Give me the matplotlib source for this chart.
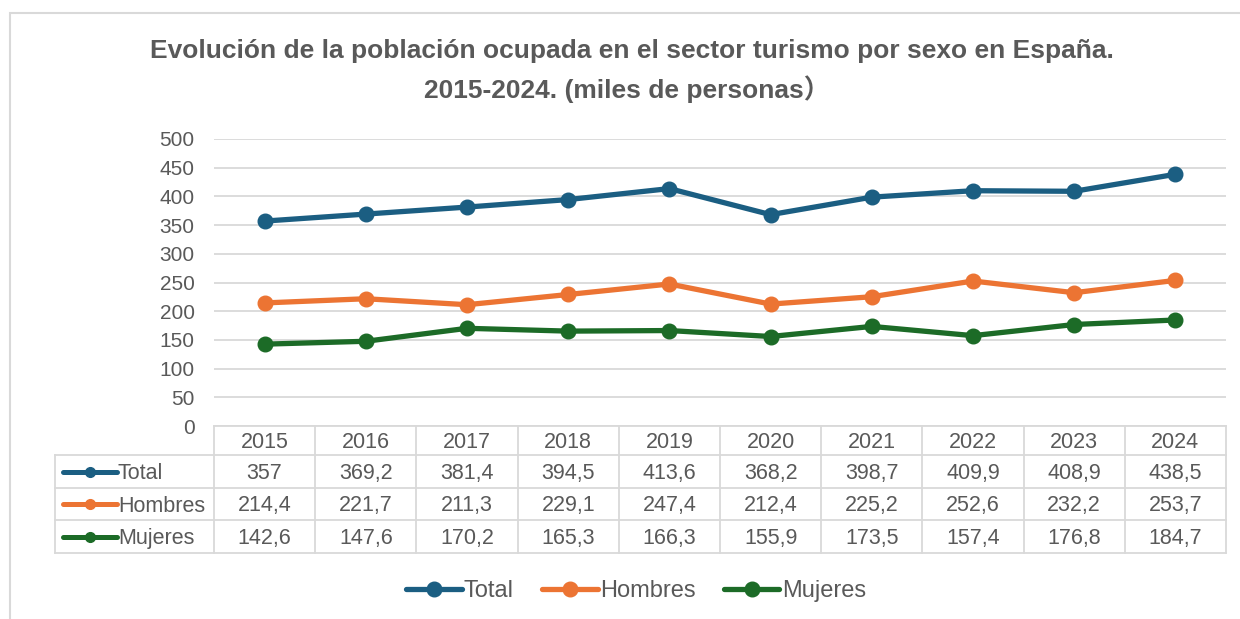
import matplotlib
matplotlib.use("Agg")
import matplotlib.pyplot as plt
from matplotlib.lines import Line2D
from matplotlib.patches import Rectangle

years = ["2015", "2016", "2017", "2018", "2019", "2020", "2021", "2022", "2023", "2024"]
total = [357, 369.2, 381.4, 394.5, 413.6, 368.2, 398.7, 409.9, 408.9, 438.5]
hombres = [214.4, 221.7, 211.3, 229.1, 247.4, 212.4, 225.2, 252.6, 232.2, 253.7]
mujeres = [142.6, 147.6, 170.2, 165.3, 166.3, 155.9, 173.5, 157.4, 176.8, 184.7]
series_names = ["Total", "Hombres", "Mujeres"]
series_colors = ["#1B5E82", "#EC7433", "#1C6B27"]
yticks = [0, 50, 100, 150, 200, 250, 300, 350, 400, 450, 500]

plt.rcParams['font.family'] = ['Liberation Sans', 'Noto Sans CJK SC', 'DejaVu Sans']
TXT = "#595959"
GRID = "#D9D9D9"

W, H = 1240, 619
fig = plt.figure(figsize=(W / 100, H / 100), dpi=100)

def fx(px):
    return px / W

def fy(py):
    return 1 - py / H

# outer frame
fig.patches.append(Rectangle((fx(10), fy(700)), fx(1300), fy(13) - fy(700),
                             transform=fig.transFigure, fill=False,
                             edgecolor="#D9D9D9", lw=1.5))

ax_l, ax_r, ax_t, ax_b = 214, 1226, 139, 426
ax = fig.add_axes([fx(ax_l), fy(ax_b), fx(ax_r - ax_l), fy(ax_t) - fy(ax_b)])
ax.set_xlim(-0.5, len(years) - 0.5)
ax.set_ylim(0, 500)
ax.set_yticks(yticks)
ax.set_yticklabels([str(v) for v in yticks])
ax.set_xticks([])
ax.tick_params(axis='y', length=0, pad=14, labelsize=15, labelcolor=TXT)
for s in ax.spines.values():
    s.set_visible(False)
ax.grid(axis='y', color=GRID, lw=1.3)
ax.set_axisbelow(True)

all_series = [total, hombres, mujeres]
xs = list(range(len(years)))
for vals, name, col in zip(all_series, series_names, series_colors):
    ax.plot(xs, vals, color=col, lw=3.8, marker='o', markersize=10.5,
            solid_capstyle='round', label=name, zorder=3)

# data table beneath the axes
axh = ax_b - ax_t
def ay(py):
    return (ax_b - py) / axh

tr = ax.get_xaxis_transform()
row_edges = [426, 455, 488, 520, 553]
lc = "#D9D9D9"
tlw = 1.3
n = len(years)
TFS = 15.5
DY = 2  # text offset in px
ax.plot([-0.5, n - 0.5], [ay(426), ay(426)], transform=tr, color=lc, lw=tlw, clip_on=False)
label_left_px = 55
x_label_left = -0.5 - (ax_l - label_left_px) / (ax_r - ax_l) * n
for ypx in row_edges[1:]:
    ax.plot([x_label_left, n - 0.5], [ay(ypx), ay(ypx)], transform=tr, color=lc, lw=tlw, clip_on=False)
for i in range(n + 1):
    xv = i - 0.5
    ax.plot([xv, xv], [ay(426), ay(553)], transform=tr, color=lc, lw=tlw, clip_on=False)
ax.plot([x_label_left, x_label_left], [ay(455), ay(553)], transform=tr, color=lc, lw=tlw, clip_on=False)

for i, yr in enumerate(years):
    ax.text(i, ay((426 + 455) / 2 + DY), yr, transform=tr, ha='center', va='center',
            fontsize=TFS, color=TXT, clip_on=False)

def fmt(v):
    s = ("%.1f" % v).replace(".", ",")
    if s.endswith(",0"):
        s = s[:-2]
    return s

for r, (vals, name, col) in enumerate(zip(all_series, series_names, series_colors)):
    y0, y1 = row_edges[r + 1], row_edges[r + 2]
    yc = (y0 + y1) / 2
    for i, v in enumerate(vals):
        ax.text(i, ay(yc + DY), fmt(v), transform=tr, ha='center', va='center',
                fontsize=TFS, color=TXT, clip_on=False)
    fig.add_artist(Line2D([fx(63), fx(117)], [fy(yc), fy(yc)], transform=fig.transFigure,
                          color=col, lw=3.6, solid_capstyle='round'))
    fig.add_artist(Line2D([fx(90)], [fy(yc)], transform=fig.transFigure,
                          color=col, marker='o', markersize=7, lw=0))
    fig.text(fx(118), fy(yc + DY), name, ha='left', va='center', fontsize=TFS, color=TXT)

# title
fig.text(fx(632), fy(51), "Evolución de la población ocupada en el sector turismo por sexo en España.",
         ha='center', va='center', fontsize=19, fontweight='bold', color=TXT)
fig.text(fx(627), fy(89), "2015-2024. (miles de personas）",
         ha='center', va='center', fontsize=19, fontweight='bold', color=TXT)

# legend
handles = [Line2D([], [], color=c, lw=3.8, marker='o', markersize=10.5, solid_capstyle='round')
           for c in series_colors]
fig.legend(handles, series_names, loc='center', bbox_to_anchor=(fx(636), fy(591)), ncol=3,
           frameon=False, fontsize=17, handlelength=2.35, handletextpad=0.1,
           columnspacing=1.2, labelcolor=TXT)

fig.savefig("out.png", dpi=100)
